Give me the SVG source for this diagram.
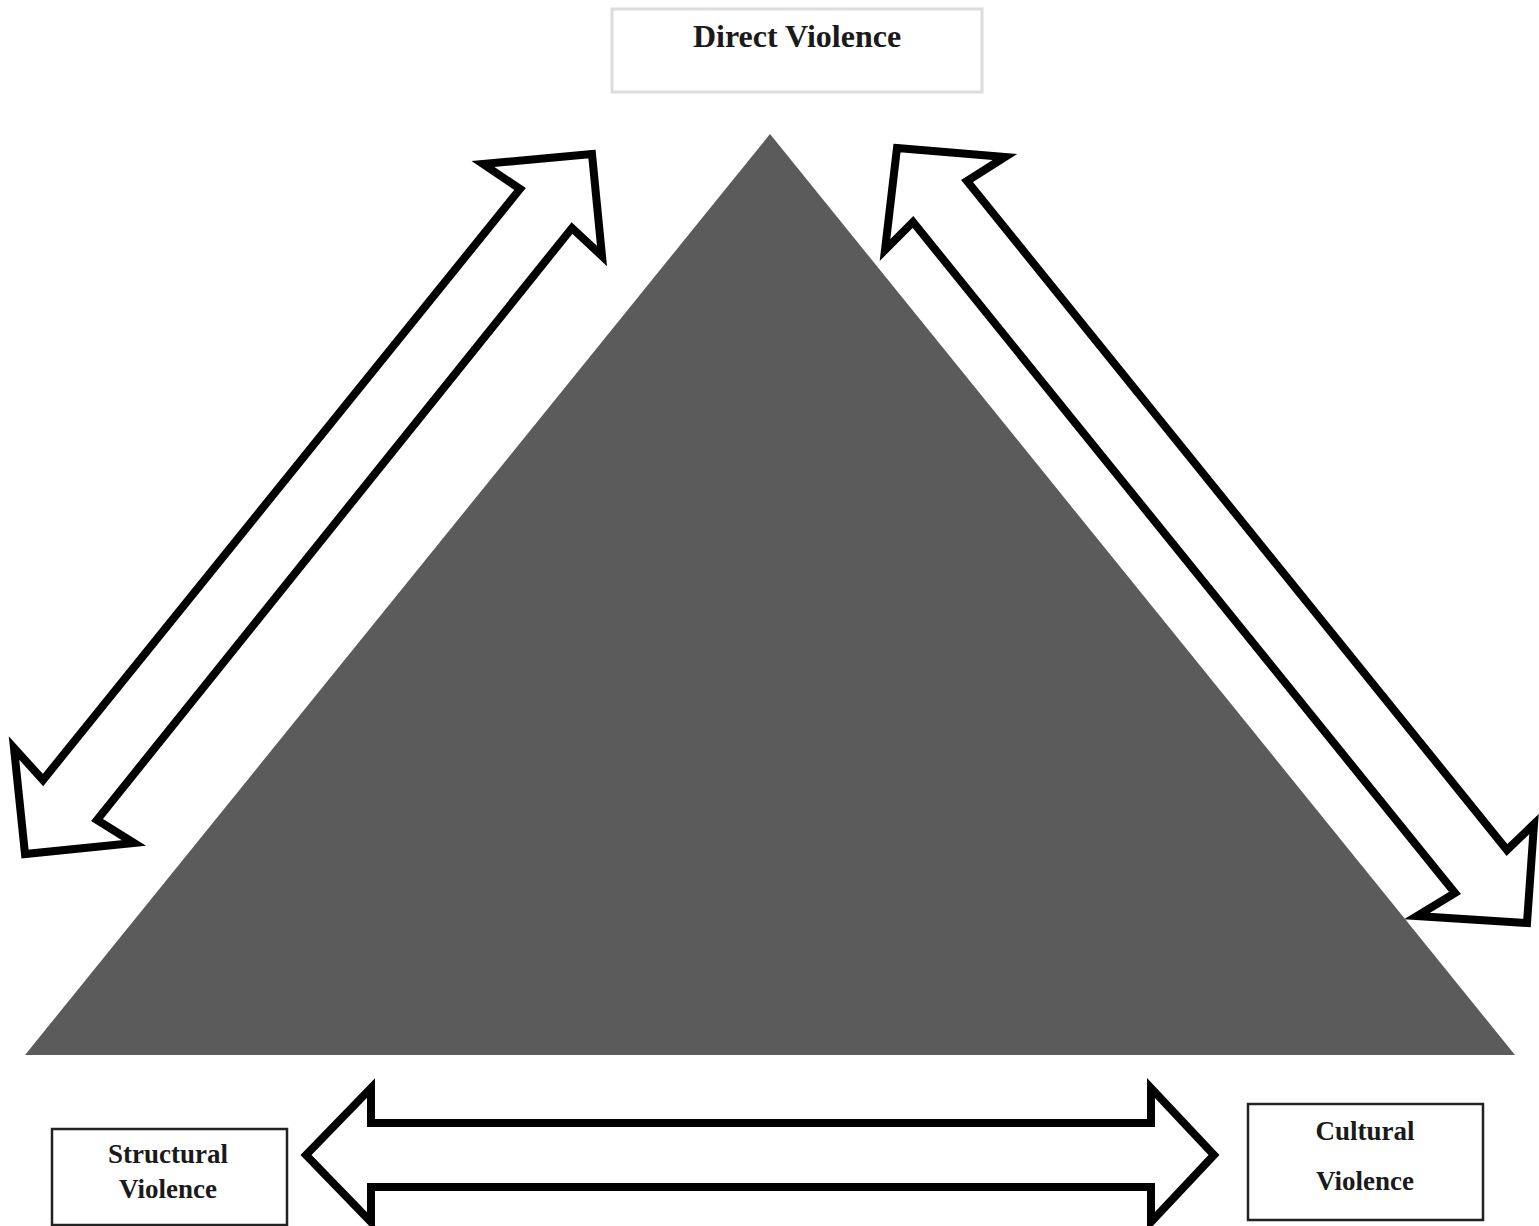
<svg xmlns="http://www.w3.org/2000/svg" width="1539" height="1226" viewBox="0 0 1539 1226">
<style>
.arrow{fill:#fff;stroke:#000;stroke-width:8;stroke-linejoin:miter;stroke-miterlimit:10}
.lbl{font-family:"Liberation Serif","Times New Roman",serif;font-weight:bold;fill:#1a1a1a;text-anchor:middle}
.box{fill:#fff;stroke:#222;stroke-width:2.5}
</style>
<rect width="1539" height="1226" fill="#fff"/>
<g id="triangle">
<polygon points="770,134 25,1055 1515,1055" fill="#5b5b5b"/>
</g>
<g id="connectors">
<polygon class="arrow" points="592,154 483,164 520,189 43,780 14,748 25,854 134,843 97,820 572,228 602,256"/>
<polygon class="arrow" points="897,148 1005,157 967,181 1507,850 1534,824 1527,923 1417,916 1455,893 913,222 885,250"/>
<polygon class="arrow" points="306,1155 371,1088 371,1123 1151,1123 1151,1088 1214,1155 1151,1222 1151,1187 371,1187 371,1222"/>
</g>
<g id="direct">
<rect x="612" y="9" width="370" height="83" fill="#fff" stroke="#dcdcdc" stroke-width="3"/>
<text class="lbl" x="797" y="47" font-size="32">Direct Violence</text>
</g>
<g id="structural">
<rect class="box" x="52" y="1129" width="235" height="96"/>
<text class="lbl" x="168" y="1163" font-size="27">Structural</text>
<text class="lbl" x="168" y="1198" font-size="27">Violence</text>
</g>
<g id="cultural">
<rect class="box" x="1248" y="1104" width="235" height="116"/>
<text class="lbl" x="1365" y="1140" font-size="27">Cultural</text>
<text class="lbl" x="1365" y="1190" font-size="27">Violence</text>
</g>
</svg>
